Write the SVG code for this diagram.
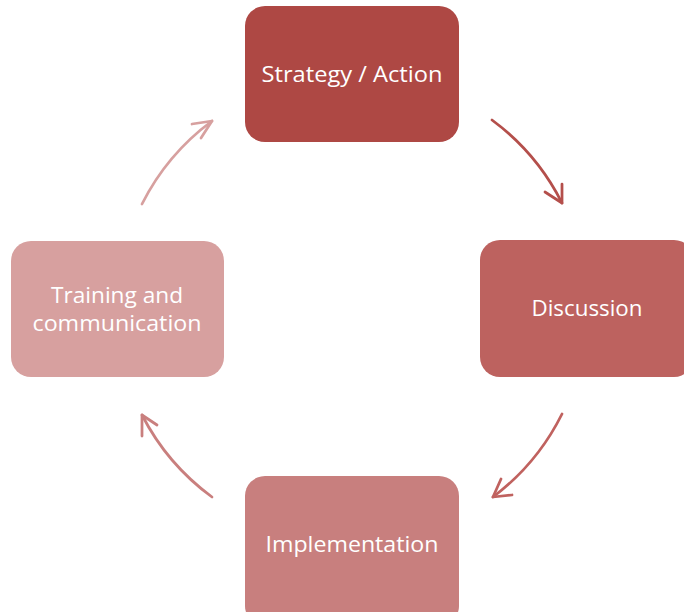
<svg xmlns="http://www.w3.org/2000/svg" width="684" height="612" viewBox="0 0 684 612">
  <style>
    .label { font-family: "Open Sans", "Liberation Sans", sans-serif; font-size: 21px; fill: #ffffff; text-anchor: middle; }
    .arc { fill: none; stroke-width: 2.75; stroke-linecap: round; stroke-linejoin: round; }
  </style>
  <rect width="684" height="612" fill="#ffffff"/>

  <!-- cycle connectors: arcs of a circle centred at (352,309), r=235 -->
  <g id="connectors">
    <g stroke="#b44f4b">
      <path class="arc" d="M492,120 A235,235 0 0 1 562,203"/>
      <path class="arc" d="M545,192 L562,203 L562,184"/>
    </g>
    <g stroke="#c0625f">
      <path class="arc" d="M562,414 A235,235 0 0 1 493,497"/>
      <path class="arc" d="M501,479 L493,497 L512,495"/>
    </g>
    <g stroke="#c97f7e">
      <path class="arc" d="M212,497 A235,235 0 0 1 142,415"/>
      <path class="arc" d="M157,425 L142,415 L142,436"/>
    </g>
    <g stroke="#d7a09f">
      <path class="arc" d="M142,204 A235,235 0 0 1 212,121"/>
      <path class="arc" d="M192,124 L212,121 L201,138"/>
    </g>
  </g>

  <g id="node-strategy">
    <rect x="245" y="6" width="214" height="136" rx="20" fill="#ae4844"/>
    <text class="label" x="352" y="82" textLength="181" lengthAdjust="spacingAndGlyphs">Strategy / Action</text>
  </g>

  <g id="node-discussion">
    <rect x="480" y="240" width="214" height="137" rx="20" fill="#bd625f"/>
    <text class="label" x="587" y="316" textLength="111" lengthAdjust="spacingAndGlyphs">Discussion</text>
  </g>

  <g id="node-implementation">
    <rect x="245" y="476" width="214" height="150" rx="20" fill="#c87f7e"/>
    <text class="label" x="352" y="552" textLength="173" lengthAdjust="spacingAndGlyphs">Implementation</text>
  </g>

  <g id="node-training">
    <rect x="11" y="241" width="213" height="136" rx="20" fill="#d7a09f"/>
    <text class="label" x="117" y="303" textLength="132" lengthAdjust="spacingAndGlyphs">Training and</text>
    <text class="label" x="117" y="331" textLength="169" lengthAdjust="spacingAndGlyphs">communication</text>
  </g>
</svg>
